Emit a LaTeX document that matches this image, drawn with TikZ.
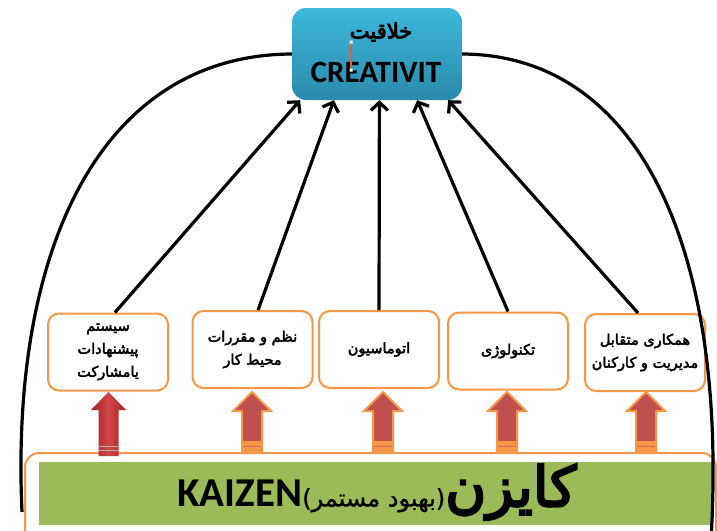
\documentclass[tikz,border=0pt]{standalone}
\usepackage{fontspec}
\usetikzlibrary{arrows.meta,calc}
\TeXXeTstate=1
\newfontfamily\arabicfont[Script=Arabic,FakeBold=3]{DejaVu Sans}
\newfontfamily\arabicbig[Script=Arabic,FakeBold=4]{DejaVu Sans}
\newfontfamily\arabicthin[Script=Arabic,FakeBold=1]{DejaVu Sans}
\newfontfamily\calibri{Carlito}
\setmainfont{Carlito}
\definecolor{tealA}{HTML}{3CB8DC}
\definecolor{tealB}{HTML}{2A8AAB}
\definecolor{orng}{HTML}{F79646}
\definecolor{grn}{HTML}{9BBB59}
\definecolor{redfill}{HTML}{C0504D}
\definecolor{redark}{HTML}{A02020}
\definecolor{redlight}{HTML}{D24848}
\definecolor{cursor}{HTML}{E0603A}
\tikzset{
  fbox/.style={draw=orng, line width=2pt, fill=white, rounded corners=11pt,
    minimum width=120pt, minimum height=77pt, align=center, inner sep=2pt,
    font=\arabicfont\fontsize{14.5}{23}\selectfont},
  topbox/.style={rounded corners=14pt, top color=tealA, bottom color=tealB,
    minimum width=170pt, minimum height=92pt, inner sep=0pt},
  link/.style={line width=3.2pt, -{Straight Barb[length=8pt,width=17pt]}},
  bigarc/.style={line width=3.2pt},
  blkorange/.style={fill=redfill, draw=orng, line width=2pt, line join=miter},
}
\newcommand\blkarrow[4]{% cx, ytop, yheadbase, ybottom
  \draw[blkorange] (#1-19,#3) -- (#1,#2) -- (#1+19,#3) -- (#1+10,#3) -- (#1+10,#4) -- (#1-10,#4) -- (#1-10,#3) -- cycle;
  \fill[orng] (#1-10,#4-11) rectangle (#1+10,#4);
  \draw[redfill!70!orng, line width=0.8pt] (#1-9,#4-6) -- (#1+9,#4-6);}
\begin{document}
\begin{tikzpicture}[x=1pt,y=-1pt]
\useasboundingbox (0,0) rectangle (717,530);
\begin{scope}
\clip (0,0) rectangle (717,530);
% bottom band
\draw[orng, line width=2pt, fill=white, rounded corners=14pt] (25,453) rectangle (716,570);
\fill[grn] (39,462) rectangle (712,525);
\node (kz) at (377,492) {\beginR{\arabicbig\fontsize{56}{60}\selectfont کایزن}{\arabicthin\fontsize{24}{28}\selectfont (بهبود مستمر)}\beginL{\calibri\bfseries\fontsize{41}{44}\selectfont KAIZEN}\endL\endR};
% block arrows
\shade[left color=redark, right color=redark, middle color=redlight]
  (91,410) -- (108.5,392) -- (126,410) -- (118.5,410) -- (118.5,456) -- (98.5,456) -- (98.5,410) -- cycle;
\draw[gray!60, line width=0.8pt] (99,446) -- (118,446) (99,450) -- (118,450);
\blkarrow{252}{392}{411}{452}
\blkarrow{383}{392}{411}{452}
\blkarrow{507}{392}{411}{452}
\blkarrow{646}{392}{411}{452}
% boxes
\node[fbox] (b1) at (108,352) {\beginR سیستم\endR\\\beginR پیشنهادات\endR\\\beginR یامشارکت\endR};
\node[fbox] (b2) at (252.5,349.5) {\beginR نظم و مقررات\endR\\\beginR محیط کار\endR};
\node[fbox] (b3) at (379,349.5) {\beginR اتوماسیون\endR};
\node[fbox] (b4) at (508,351) {\beginR تکنولوژی\endR};
\node[fbox] (b5) at (645,352.5) {\beginR همکاری متقابل\endR\\\beginR مدیریت و کارکنان\endR};
% top box
\node[topbox] (top) at (377,54) {};
\node (fa) at (381,32) {\arabicbig\fontsize{21}{24}\selectfont\beginR خلاقیت\endR};
\node (en) at (376,72) {\calibri\bfseries\fontsize{31}{34}\selectfont CREATIVIT};
\draw[cursor, line width=1.5pt] (351,42) -- (351,70);
\fill[white] (349.5,40.5) rectangle (352.5,43.5) (349.5,68.5) rectangle (352.5,71.5);
% connectors
\draw[link] (b1.80) -- (top.211);
\draw[link] (b2.82) -- (top.227);
\draw[link] (b3.north) -- (top.273);
\draw[link] (b4.north) -- (top.311);
\draw[link] (b5.100) -- (top.327);
\coordinate (lend) at (22,512);
\coordinate (rend) at (711,540);
\draw[bigarc] (top.west) .. controls (100,55) and (10,250) .. (lend);
\draw[bigarc] (top.east) .. controls (640,55) and (728,250) .. (rend);
\end{scope}
\end{tikzpicture}
\end{document}
